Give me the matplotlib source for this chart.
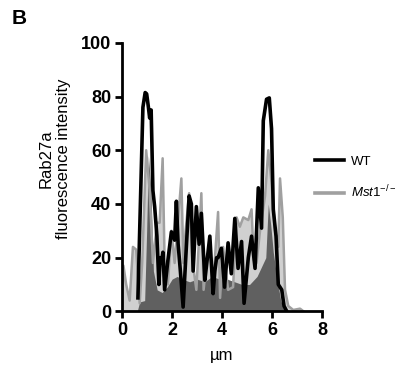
import matplotlib
matplotlib.use("Agg")
import matplotlib.pyplot as plt
from matplotlib.lines import Line2D
import numpy as np

plt.rcParams['font.family'] = ['Liberation Sans', 'DejaVu Sans']
plt.rcParams['mathtext.fontset'] = 'custom'
plt.rcParams['mathtext.rm'] = 'Liberation Sans'
plt.rcParams['mathtext.it'] = 'Liberation Sans:italic'

# WT profile (black)
wt_x = [0.63, 0.83, 0.92, 0.98, 1.05, 1.10, 1.16, 1.23, 1.30, 1.39, 1.47, 1.52,
        1.57, 1.63, 1.70, 1.83, 1.97, 2.10, 2.17, 2.24, 2.33, 2.44, 2.54, 2.68,
        2.77, 2.84, 2.97, 3.08, 3.17, 3.31, 3.40, 3.51, 3.64, 3.71, 3.78, 3.84,
        3.97, 4.10, 4.24, 4.37, 4.51, 4.64, 4.78, 4.88, 5.05, 5.18, 5.32, 5.45,
        5.58, 5.65, 5.78, 5.89, 5.98, 6.05, 6.16, 6.25, 6.39, 6.48, 6.59]
wt_y = [5, 76, 81.5, 81, 76, 72, 75, 45, 39, 28, 10, 20,
        18, 22, 8, 19, 29.6, 26.5, 41, 25, 15, 1.6, 19, 43,
        40, 15, 39, 25, 36.5, 11.6, 19, 28, 6.6, 15, 20, 20,
        23.5, 9, 25.5, 14, 34.6, 16, 26, 3, 20, 28, 16, 46,
        31, 71, 79, 79.5, 68, 38, 28, 10, 8, 2, 0]

# Mst1-/- profile (grey)
ko_x = [0.00, 0.05, 0.16, 0.30, 0.43, 0.56, 0.70, 0.80, 0.96, 1.10, 1.23, 1.39,
        1.50, 1.62, 1.70, 1.83, 1.97, 2.10, 2.37, 2.45, 2.54, 2.68, 2.81, 2.97,
        3.17, 3.26, 3.37, 3.51, 3.64, 3.84, 3.92, 4.04, 4.24, 4.44, 4.58, 4.71,
        4.85, 5.05, 5.18, 5.27, 5.38, 5.52, 5.72, 5.85, 5.98, 6.12, 6.25, 6.32,
        6.43, 6.52, 6.65, 6.85, 7.12, 7.26]
ko_y = [2, 17, 10, 4, 24, 23, 3, 18, 60, 45, 18, 33,
        33, 57, 18, 10, 30, 18, 49.5, 18, 30, 44, 19, 8,
        44, 8, 18, 24, 10, 37, 5, 24, 8, 9, 35, 31.5,
        35, 34, 38, 19, 18, 30, 43, 60, 48, 30, 24, 49.5,
        35, 8, 2, 0.5, 1, 0]

# overlap area (dark grey)
ov_x = [0.60, 0.70, 0.90, 0.98, 1.05, 1.15, 1.25, 1.40, 1.60, 1.80, 2.00, 2.20,
        2.40, 2.70, 3.00, 3.30, 3.60, 3.90, 4.20, 4.50, 4.80, 5.10, 5.40, 5.60,
        5.75, 5.85, 5.95, 6.05, 6.20, 6.35, 6.50]
ov_y = [0, 3.5, 4, 30, 58, 45, 15, 8, 7, 9, 12, 13,
        12, 11, 12, 11, 13, 12, 12, 11, 10, 10, 13, 17,
        20, 40, 32, 22, 12, 4, 0]

fig = plt.figure(figsize=(3.98, 3.76), dpi=100)
ax = fig.add_axes([0.307, 0.172, 0.502, 0.714])

ax.fill_between(ko_x, 0, ko_y, color='#d0d0d0', lw=0)
ax.fill_between(ov_x, 0, ov_y, color='#606060', lw=0)
ax.plot(ko_x, ko_y, color='#a0a0a0', lw=1.8)
ax.plot(wt_x, wt_y, color='black', lw=2.6)

ax.set_xlim(0, 8)
ax.set_ylim(0, 100)
ax.set_xticks([0, 2, 4, 6, 8])
ax.set_yticks([0, 20, 40, 60, 80, 100])
for s in ['top', 'right']:
    ax.spines[s].set_visible(False)
for s in ['left', 'bottom']:
    ax.spines[s].set_linewidth(2)
ax.tick_params(width=2, length=5, labelsize=13, pad=3)
for lab in ax.get_xticklabels() + ax.get_yticklabels():
    lab.set_fontweight('bold')

ax.set_xlabel('µm', fontsize=12, labelpad=6)
ax.set_ylabel('Rab27a\nfluorescence intensity', fontsize=12)
ax.yaxis.set_label_coords(-0.255, 0.57)

handles = [Line2D([], [], color='black', lw=2.6),
           Line2D([], [], color='#a0a0a0', lw=2.6)]
ax.legend(handles, ['WT', r'$\mathit{Mst1}^{\mathrm{-/-}}$'], frameon=False,
          loc='center left', bbox_to_anchor=(0.94, 0.496), borderaxespad=0,
          fontsize=9.5, handlelength=2.2, handletextpad=0.5, labelspacing=1.2)

fig.text(0.03, 0.975, 'B', fontsize=15, fontweight='bold', va='top')

fig.savefig('out.png', dpi=100)
